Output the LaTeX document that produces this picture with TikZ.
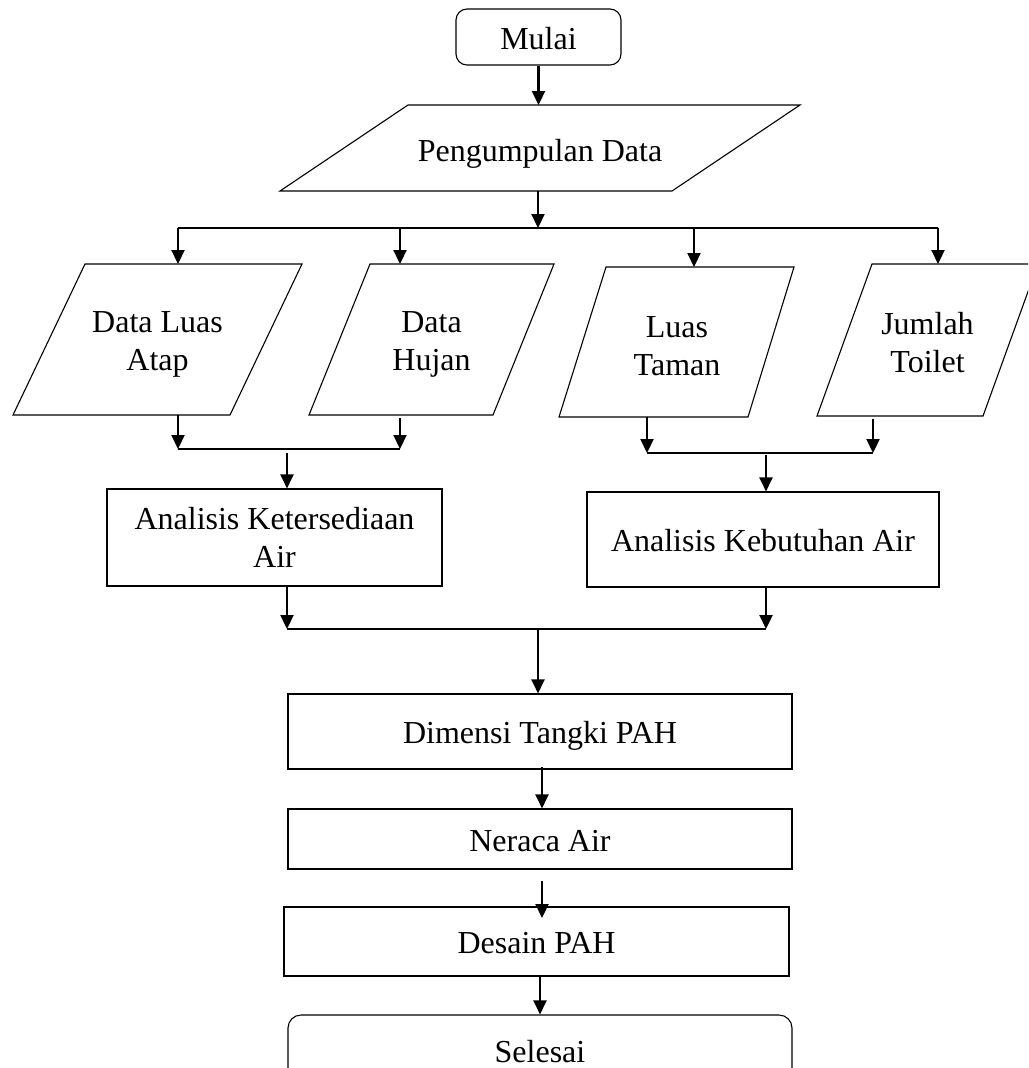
\documentclass[tikz,border=0pt]{standalone}
\usepackage{fontspec}
\setmainfont{Liberation Serif}
\usetikzlibrary{arrows.meta}
\newcommand\figfont{\fontsize{32}{38}\selectfont}
\begin{document}
\begin{tikzpicture}[x=1pt,y=-1pt,
  outline/.style={draw,line width=1.1pt,line join=miter},
  boxbase/.style={outline,rectangle,inner sep=0pt,font=\figfont,align=center},
  boxnode/.style={boxbase,text height=26pt,text depth=2pt},
  termnode/.style={boxnode,rounded corners=11pt},
  txtnode/.style={inner sep=0pt,font=\figfont,align=center},
  arr/.style={line width=2.2pt,-{Triangle[width=13pt,length=14pt]}},
  link/.style={line width=2.2pt},
]
\useasboundingbox (0,0) rectangle (1028,1068);
\fill[white] (0,0) rectangle (1028,1068);
\clip (0,0) rectangle (1028,1068);

% start
\node[termnode,minimum width=165pt,minimum height=56pt] (mulai) at (538.5,37) {Mulai};

% Pengumpulan Data
\draw[outline] (408,105) -- (800,105) -- (672,191) -- (280,191) -- cycle;
\node[txtnode,text height=26pt,text depth=2pt] (peng) at (540,149) {Pengumpulan Data};
\coordinate (pengT) at (538.5,105);
\coordinate (pengB) at (538,191);
\draw[arr] (mulai.south) -- (pengT);

% top bus
\coordinate (busM) at (538,228);
\coordinate (busL) at (178,228);
\coordinate (busR) at (938,228);
\draw[arr] (pengB) -- (busM);
\draw[link] (busL) -- (busR);

% four inputs
\draw[outline] (85,264) -- (302,264) -- (230,415) -- (13,415) -- cycle;
\node[txtnode] (p1) at (157.5,344) {Data Luas\\Atap};
\draw[outline] (370,264) -- (554,264) -- (493,415) -- (309,415) -- cycle;
\node[txtnode] (p2) at (431.5,344) {Data\\Hujan};
\draw[outline] (606,267) -- (794,267) -- (748,417) -- (559,417) -- cycle;
\node[txtnode] (p3) at (677,346) {Luas\\Taman};
\draw[outline] (872,264) -- (1038,264) -- (983,416) -- (817,416) -- cycle;
\node[txtnode] (p4) at (927.5,343) {Jumlah\\Toilet};

\coordinate (p1T) at (178,264);
\coordinate (p2T) at (400,264);
\coordinate (p3T) at (694,267);
\coordinate (p4T) at (938,264);
\coordinate (d2) at (400,228);
\coordinate (d3) at (694,228);
\draw[arr] (busL) -- (p1T);
\draw[arr] (d2) -- (p2T);
\draw[arr] (d3) -- (p3T);
\draw[arr] (busR) -- (p4T);

% left merge
\coordinate (p1B) at (178,415);
\coordinate (p2B) at (400,418);
\coordinate (lmL) at (178,449);
\coordinate (lmR) at (400,449);
\coordinate (lmM) at (287,453);
\draw[arr] (p1B) -- (lmL);
\draw[arr] (p2B) -- (lmR);
\draw[link] (lmL) -- (lmR);

% right merge
\coordinate (p3B) at (647,417);
\coordinate (p4B) at (873,419);
\coordinate (rmL) at (647,453);
\coordinate (rmR) at (873,453);
\coordinate (rmM) at (766,455);
\draw[arr] (p3B) -- (rmL);
\draw[arr] (p4B) -- (rmR);
\draw[link] (rmL) -- (rmR);

% analyses
\node[boxbase,minimum width=335pt,minimum height=97pt] (aka) at (274.5,537.5) {Analisis Ketersediaan\\Air};
\node[boxnode,minimum width=352pt,minimum height=95pt] (akb) at (763,539.5) {Analisis Kebutuhan Air};
\draw[arr] (lmM) -- (lmM |- aka.north);
\draw[arr] (rmM) -- (rmM |- akb.north);

% lower bus
\coordinate (lbL) at (287,629);
\coordinate (lbR) at (766,629);
\coordinate (lbM) at (538,629);
\draw[arr] (lbL |- aka.south) -- (lbL);
\draw[arr] (lbR |- akb.south) -- (lbR);
\draw[link] (lbL) -- (lbR);

% sequence
\node[boxnode,minimum width=504pt,minimum height=75pt] (dim) at (540,731.5) {Dimensi Tangki PAH};
\node[boxnode,minimum width=504pt,minimum height=60pt] (ner) at (540,839) {Neraca Air};
\node[boxnode,minimum width=505pt,minimum height=69pt] (des) at (536.5,941.5) {Desain PAH};
\node[termnode,rounded corners=13pt,minimum width=504pt,minimum height=70pt] (sel) at (540,1050) {Selesai};

\draw[arr] (lbM) -- (lbM |- dim.north);
\coordinate (a1s) at (542,767);
\draw[arr] (a1s) -- (a1s |- ner.north);
\coordinate (a2s) at (542,881);
\coordinate (a2e) at (542,918);
\draw[arr] (a2s) -- (a2e);
\coordinate (a3s) at (540,976);
\draw[arr] (a3s) -- (a3s |- sel.north);
\end{tikzpicture}
\end{document}
